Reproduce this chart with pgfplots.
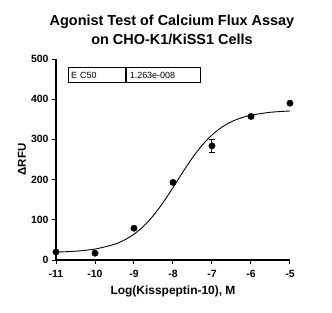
\documentclass[border=0pt]{standalone}
\usepackage{pgfplots}
\pgfplotsset{compat=1.18}
\usepackage{fontspec}
\setmainfont{Liberation Sans}
\begin{document}
\begin{tikzpicture}[x=1bp,y=1bp]
\useasboundingbox (-56,-53) rectangle (276,260);
\begin{axis}[
  at={(0,0)}, anchor=south west,
  scale only axis, width=234bp, height=201bp,
  xmin=-11, xmax=-5, ymin=0, ymax=500,
  axis x line*=bottom, axis y line*=left,
  axis line style={line width=1.2pt, -},
  xtick={-11,-10,...,-5}, ytick={0,100,...,500},
  tick align=outside, major tick length=4bp,
  tick style={line width=1pt, black},
  tick label style={font=\fontsize{10.5}{12}\selectfont\bfseries},
  /pgf/number format/assume math mode=true,
  xticklabel style={yshift=-3bp},
  clip=false,
]
\addplot[smooth, line width=0.9pt, black] coordinates {
(-11,19.7) (-10.5,21.9) (-10,27.2) (-9.5,39.1) (-9.25,49.5) (-9,64.2) (-8.75,84.5) (-8.5,111.0) (-8.25,143.5) (-8,180.2) (-7.75,218.4) (-7.5,254.5) (-7.25,285.8) (-7,311.1) (-6.75,330.2) (-6.5,344.0) (-6.25,353.6) (-6,360.1) (-5.5,367.5) (-5,370.7)
};
\addplot[only marks, mark=*, mark size=3.2bp, black,
  error bars/.cd, y dir=both, y explicit, error mark options={rotate=90, mark size=3bp, line width=1pt}, error bar style={line width=1pt}]
  coordinates {
(-11,20) +- (0,0)
(-10,17) +- (0,0)
(-9,79) +- (0,0)
(-8,193) +- (0,0)
(-7,284) +- (0,16)
(-6,357) +- (0,0)
(-5,390) +- (0,0)
};
\end{axis}
\node[draw, line width=1.2pt, anchor=west, minimum width=57bp, minimum height=15bp, inner sep=2bp, text width=52bp, font=\fontsize{9}{10}\selectfont] (a) at (12,185) {E C50};
\node[draw, line width=1.2pt, anchor=west, minimum width=74bp, minimum height=15bp, inner sep=2bp, text width=68bp, font=\fontsize{9}{10}\selectfont] at (a.east) {1.263e-008};
\node[align=center, font=\fontsize{14.5}{19}\selectfont\bfseries] at (116,230) {Agonist Test of Calcium Flux Assay\\on CHO-K1/KiSS1 Cells};
\node[font=\fontsize{12}{14}\selectfont\bfseries] at (117,-31) {Log(Kisspeptin-10), M};
\node[rotate=90, font=\fontsize{11.5}{13}\selectfont\bfseries] at (-34,100.5) {ΔRFU};
\end{tikzpicture}
\end{document}
